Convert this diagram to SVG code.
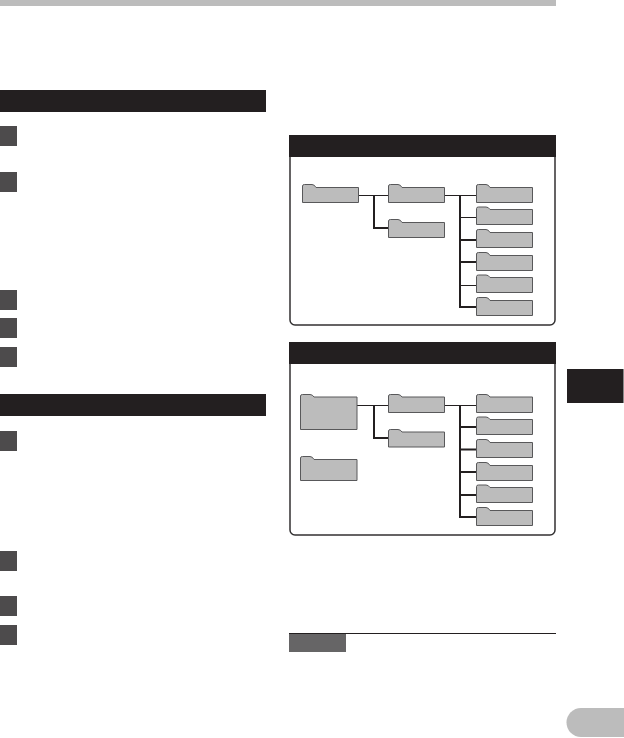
<svg xmlns="http://www.w3.org/2000/svg" width="624" height="738" viewBox="0 0 624 738">
<style>
.bar{fill:#231f20}
.sq{fill:#4d4b4c}
.frame{fill:#fff;stroke:#333132;stroke-width:1.5}
.f{fill:#bcbcbc;stroke:#58585a;stroke-width:1}
.thin{fill:none;stroke:#231f20;stroke-width:1}
.thick{fill:none;stroke:#231f20;stroke-width:2}
</style>
<rect width="624" height="738" fill="#fff"/>
<rect id="top-band" x="0" y="0" width="556" height="6" fill="#bcbcbc"/>
<g id="left-column">
<rect class="bar" x="0" y="90" width="266" height="22"/>
<rect class="sq" x="0" y="126" width="17" height="20"/>
<rect class="sq" x="0" y="172" width="17" height="20"/>
<rect class="sq" x="0" y="290" width="17" height="20"/>
<rect class="sq" x="0" y="318" width="17" height="20"/>
<rect class="sq" x="0" y="347" width="17" height="20"/>
<rect class="bar" x="0" y="394" width="266" height="22"/>
<rect class="sq" x="0" y="431" width="17" height="20"/>
<rect class="sq" x="0" y="551" width="17" height="20"/>
<rect class="sq" x="0" y="596" width="17" height="20"/>
<rect class="sq" x="0" y="625" width="17" height="20"/>
</g>
<g id="panel-1">
<rect class="frame" x="290" y="140" width="265" height="185" rx="5"/>
<rect class="bar" x="289" y="135" width="267" height="22"/>
</g>
<g id="panel-2">
<rect class="frame" x="290" y="350" width="265" height="185" rx="5"/>
<rect class="bar" x="289" y="342" width="267" height="22"/>
</g>
<g id="connectors">
<path class="thin" d="M358 195.5H388M444.5 195.5H477M460 217.5H477M460 285.5H477"/>
<path class="thick" d="M374 195.5V228H388M460 195.5V307H477M460 240H477M460 262H477"/>
<path class="thin" d="M357 405.5H388M444.5 405.5H477"/>
<path class="thick" d="M374 405.5V438H388M460 405.5V517H477M460 427H477M460 449.500H477M460 472H477M460 495H477"/>
</g>
<g id="p1-root"><path class="f" d="M302.500 202.500V186Q302.500 184.500 304.500 184.500H312Q314.500 184.500 316 187.500H358.500V202.500Z"/></g>
<g id="p1-mid-1"><path class="f" d="M388.500 202.500V186Q388.500 184.500 390.500 184.500H398Q400.500 184.500 402 187.500H444.500V202.500Z"/></g>
<g id="p1-mid-2"><path class="f" d="M388.500 237.500V221Q388.500 219.500 390.500 219.500H398Q400.500 219.500 402 222.500H444.500V237.500Z"/></g>
<g id="p1-leaf-1"><path class="f" d="M476.500 202.500V186Q476.500 184.500 478.500 184.500H486Q488.500 184.500 490 187.500H532.500V202.500Z"/></g>
<g id="p1-leaf-2"><path class="f" d="M476.500 224.500V208.500Q476.500 207 478.500 207H486Q488.500 207 490 209.500H532.500V224.500Z"/></g>
<g id="p1-leaf-3"><path class="f" d="M476.500 247.500V231Q476.500 229.500 478.500 229.500H486Q488.500 229.500 490 232.500H532.500V247.500Z"/></g>
<g id="p1-leaf-4"><path class="f" d="M476.500 270.500V254Q476.500 252.500 478.500 252.500H486Q488.500 252.500 490 255.500H532.500V270.500Z"/></g>
<g id="p1-leaf-5"><path class="f" d="M476.500 292.500V276.500Q476.500 275 478.500 275H486Q488.500 275 490 277.500H532.500V292.500Z"/></g>
<g id="p1-leaf-6"><path class="f" d="M476.500 315.500V299Q476.500 297.500 478.500 297.500H486Q488.500 297.500 490 300.500H532.500V315.500Z"/></g>
<g id="p2-root-1"><path class="f" d="M300.500 429.500V396Q300.500 394.500 302.500 394.500H310Q312.500 394.500 314 397H357V429.500Z"/></g>
<g id="p2-root-2"><path class="f" d="M300.500 480.500V458Q300.500 456.500 302.500 456.500H310Q312.500 456.500 314 459.500H357V480.500Z"/></g>
<g id="p2-mid-1"><path class="f" d="M388.500 412.500V396Q388.500 394.500 390.500 394.500H398Q400.500 394.500 402 397H444.500V412.500Z"/></g>
<g id="p2-mid-2"><path class="f" d="M388.500 447V431Q388.500 429.500 390.500 429.500H398Q400.500 429.500 402 432H444.500V447Z"/></g>
<g id="p2-leaf-1"><path class="f" d="M476.500 412.500V396Q476.500 394.500 478.500 394.500H486Q488.500 394.500 490 397H532.500V412.500Z"/></g>
<g id="p2-leaf-2"><path class="f" d="M476.500 434.500V418.500Q476.500 417 478.500 417H486Q488.500 417 490 419.500H532.500V434.500Z"/></g>
<g id="p2-leaf-3"><path class="f" d="M476.500 457.500V441Q476.500 439.500 478.500 439.500H486Q488.500 439.500 490 442.500H532.500V457.500Z"/></g>
<g id="p2-leaf-4"><path class="f" d="M476.500 480.500V464Q476.500 462.500 478.500 462.500H486Q488.500 462.500 490 465.500H532.500V480.500Z"/></g>
<g id="p2-leaf-5"><path class="f" d="M476.500 502.500V486.500Q476.500 485 478.500 485H486Q488.500 485 490 487.500H532.500V502.500Z"/></g>
<g id="p2-leaf-6"><path class="f" d="M476.500 525.500V509Q476.500 507.500 478.500 507.500H486Q488.500 507.500 490 510.500H532.500V525.500Z"/></g>
<g id="note">
<rect x="289" y="634" width="57" height="18" fill="#666566"/>
<line x1="289" y1="633.500" x2="556" y2="633.500" stroke="#231f20" stroke-width="1"/>
</g>
<g id="chapter-tab">
<rect x="567" y="369" width="56" height="34" fill="#231f20"/>
<rect x="623" y="369" width="1" height="34" fill="#8a8a8a"/>
</g>
<path id="page-pill" d="M624 708H581A14.500 14.500 0 0 0 581 737H624Z" fill="#bcbcbc"/>
</svg>
